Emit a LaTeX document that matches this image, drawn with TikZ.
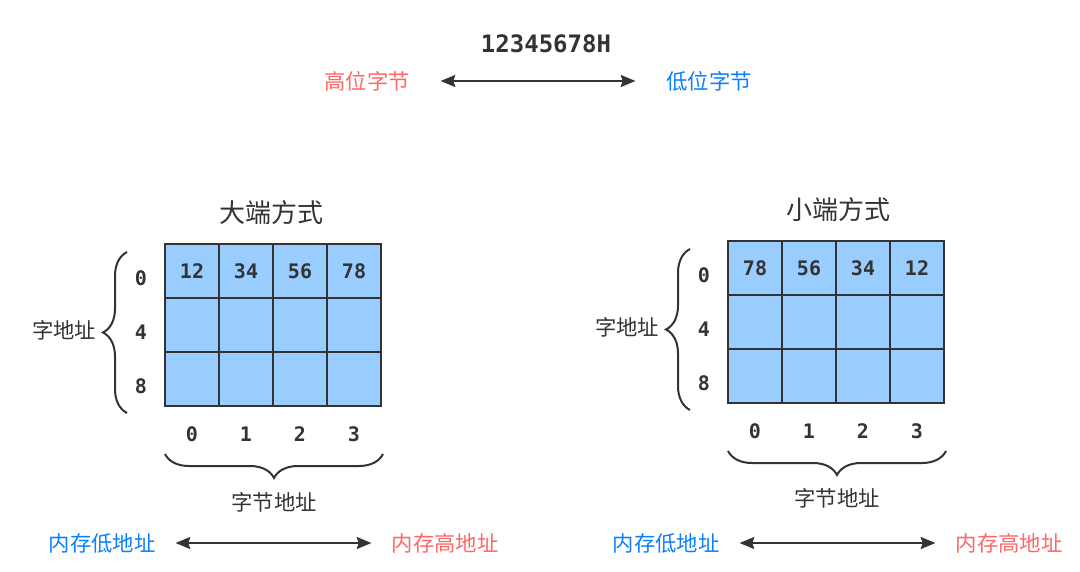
\documentclass[tikz,border=0pt]{standalone}
\usepackage{fontspec}
\usetikzlibrary{arrows.meta,decorations.pathreplacing}
\newfontfamily\cjk{Noto Sans CJK SC}
\newfontfamily\codefont{DejaVu Sans Mono}
\definecolor{ink}{HTML}{333333}
\definecolor{hibyte}{HTML}{FF6666}
\definecolor{lobyte}{HTML}{0A7FFF}
\definecolor{cellfill}{HTML}{99CCFF}
\tikzset{
  cell/.style={draw=ink, fill=cellfill, line width=1.6pt, minimum width=40.5pt,
    minimum height=40.5pt, inner sep=0pt, outer sep=0pt, text=ink,
    font=\codefont\bfseries\fontsize{15}{18}\selectfont},
  addr/.style={inner sep=0pt, text=ink, font=\codefont\bfseries\fontsize{15}{18}\selectfont},
  title/.style={inner sep=0pt, text=ink, font=\cjk\fontsize{19.5}{23}\selectfont},
  label/.style={inner sep=0pt, text=ink, font=\cjk\fontsize{16}{19}\selectfont},
  hilabel/.style={label, text=hibyte},
  lolabel/.style={label, text=lobyte},
  dblarrow/.style={draw=ink, line width=1.5pt, {Stealth[length=11pt,width=9pt,inset=1.5pt]}-{Stealth[length=11pt,width=9pt,inset=1.5pt]}},
  brace/.style={draw=ink, line width=1.5pt, decorate, decoration={brace, amplitude=18pt}}
}

\begin{document}
\begin{tikzpicture}[x=0.75pt, y=-0.75pt]
  \useasboundingbox (0,0) rectangle (1080,571);
  % word and byte order
  \node[addr, font=\codefont\bfseries\fontsize{18}{21}\selectfont] (word) at (546,44) {12345678H};
  \node[hilabel] (hitop) at (367,81) {高位字节};
  \node[lolabel] (lotop) at (709,81) {低位字节};
  \draw[dblarrow, shorten <=23pt, shorten >=23pt] (hitop.east) -- (lotop.west);

  % big endian
  \node[title] (bigtitle) at (271,213) {大端方式};
  \foreach \c/\v in {0/12,1/34,2/56,3/78}
    \node[cell] (big-0-\c) at (192+54*\c,271) {\v};
  \foreach \r in {1,2}
    \foreach \c in {0,...,3}
      \node[cell] (big-\r-\c) at (192+54*\c,271+54*\r) {};
  \foreach \r/\a in {0/0,1/4,2/8}
    \node[addr] (big-row\r) at (141,278+54*\r) {\a};
  \foreach \c in {0,...,3}
    \node[addr] (big-col\c) at (192+54*\c,434) {\c};
  \coordinate (big-lb1) at (127,413);
  \coordinate (big-lb2) at (127,252);
  \draw[brace] (big-lb1) -- (big-lb2);
  \node[label] (bigword) at (64,330) {字地址};
  \coordinate (big-bb1) at (383,454);
  \coordinate (big-bb2) at (165,454);
  \draw[brace] (big-bb1) -- (big-bb2);
  \node[label] (bigbyte) at (274,502) {字节地址};
  \node[lolabel] (biglow) at (102,543) {内存低地址};
  \node[hilabel] (bighigh) at (445,543) {内存高地址};
  \draw[dblarrow, shorten <=15pt, shorten >=15pt] (biglow.east) -- (bighigh.west);

  % little endian
  \node[title] (littletitle) at (838,210) {小端方式};
  \foreach \c/\v in {0/78,1/56,2/34,3/12}
    \node[cell] (little-0-\c) at (755+54*\c,268) {\v};
  \foreach \r in {1,2}
    \foreach \c in {0,...,3}
      \node[cell] (little-\r-\c) at (755+54*\c,268+54*\r) {};
  \foreach \r/\a in {0/0,1/4,2/8}
    \node[addr] (little-row\r) at (704,275+54*\r) {\a};
  \foreach \c in {0,...,3}
    \node[addr] (little-col\c) at (755+54*\c,431) {\c};
  \coordinate (little-lb1) at (690,410);
  \coordinate (little-lb2) at (690,249);
  \draw[brace] (little-lb1) -- (little-lb2);
  \node[label] (littleword) at (627,327) {字地址};
  \coordinate (little-bb1) at (946,451);
  \coordinate (little-bb2) at (728,451);
  \draw[brace] (little-bb1) -- (little-bb2);
  \node[label] (littlebyte) at (837,498) {字节地址};
  \node[lolabel] (littlelow) at (666,543) {内存低地址};
  \node[hilabel] (littlehigh) at (1009,543) {内存高地址};
  \draw[dblarrow, shorten <=15pt, shorten >=15pt] (littlelow.east) -- (littlehigh.west);
\end{tikzpicture}
\end{document}
